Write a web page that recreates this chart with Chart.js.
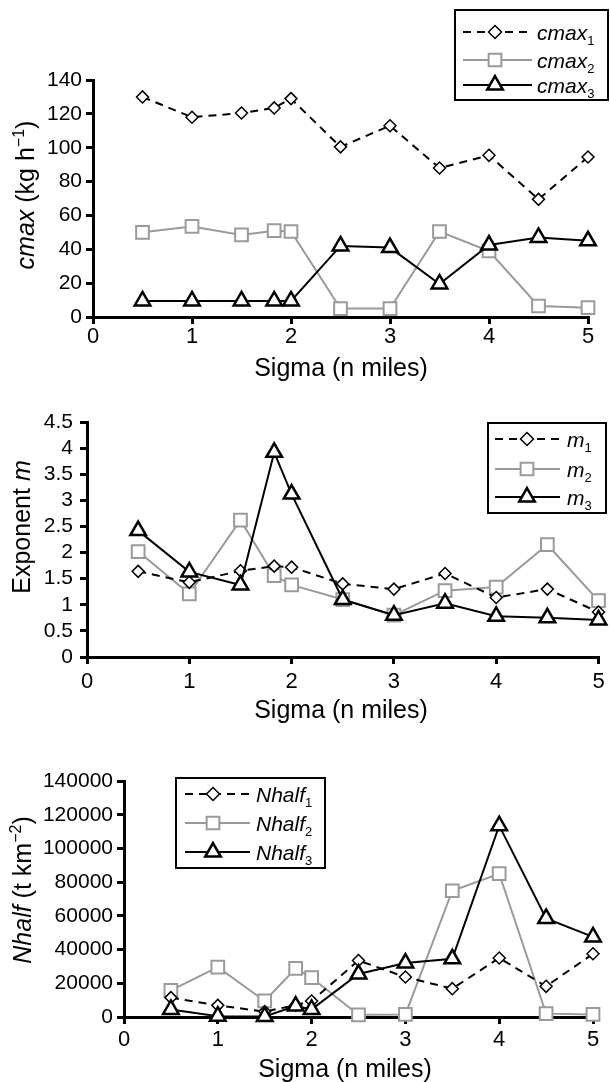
<!DOCTYPE html>
<html>
<head>
<meta charset="utf-8">
<script src="https://cdn.jsdelivr.net/npm/chart.js@4.4.1/dist/chart.umd.min.js"></script>
<style>
html, body { margin: 0; padding: 0; background: #fff; }
#wrap { position: relative; width: 610px; height: 1082px; }
canvas { position: absolute; left: 0; }
</style>
</head>
<body>
<div id="wrap">
  <canvas id="c1" width="610" height="385" style="top:0px"></canvas>
  <canvas id="c2" width="610" height="340" style="top:385px"></canvas>
  <canvas id="c3" width="610" height="357" style="top:725px"></canvas>
</div>
<script>
// data
const sigma = [0.5, 1, 1.5, 1.83, 2, 2.5, 3, 3.5, 4, 4.5, 5];

const cmax1 = [130, 118, 120.5, 123.5, 129, 100.5, 113, 88, 95.5, 69.5, 94.5];
const cmax2 = [50, 53.5, 48.5, 51, 50.5, 5, 5, 50.5, 39, 6.5, 5.5];
const cmax3 = [9.5, 9.5, 9.5, 9.5, 9.5, 42, 41, 19.5, 42.5, 47, 45];

const m1 = [1.64, 1.43, 1.65, 1.74, 1.72, 1.40, 1.30, 1.60, 1.14, 1.30, 0.86];
const m2 = [2.02, 1.21, 2.62, 1.56, 1.38, 1.10, 0.80, 1.27, 1.34, 2.15, 1.08];
const m3 = [2.42, 1.63, 1.38, 3.92, 3.12, 1.10, 0.80, 1.03, 0.78, 0.75, 0.71];

const nhalf1 = [11500, 6900, 3200, 7000, 9500, 33500, 23700, 16800, 35000, 18200, 37500];
const nhalf2 = [15800, 29600, 9500, 28800, 23300, 1300, 1500, 74900, 85000, 2000, 1500];
const nhalf3 = [4500, 500, 300, 6500, 4500, 25500, 32000, 34500, 113500, 58500, 47500];

const xTicks = [0, 1, 2, 3, 4, 5];
const cmaxTicks = [0, 20, 40, 60, 80, 100, 120, 140];
const mTicks = [0, 0.5, 1, 1.5, 2, 2.5, 3, 3.5, 4, 4.5];
const nhalfTicks = [0, 20000, 40000, 60000, 80000, 100000, 120000, 140000];

const FAM = '"Liberation Sans", Arial, Helvetica, sans-serif';
const GREY = '#9a9a9a';

// text with italic / superscript / subscript pieces
function drawRich(ctx, parts, x, y, size, rot, align) {
    const fonts = parts.map(p => (p.i ? 'italic ' : '') + Math.round(p.sup || p.sub ? size * 0.62 : size) + 'px ' + FAM);
    let w = 0;
    const ws = parts.map((p, k) => {
        ctx.font = fonts[k];
        const m = ctx.measureText(p.t).width;
        w += m;
        return m;
    });
    ctx.save();
    ctx.translate(x, y);
    ctx.rotate(rot || 0);
    ctx.textBaseline = 'alphabetic';
    ctx.textAlign = 'left';
    ctx.fillStyle = '#000';
    let cx = align === 'left' ? 0 : -w / 2;
    const base = size * 0.36;
    parts.forEach((p, k) => {
        ctx.font = fonts[k];
        const dy = p.sup ? -size * 0.42 : (p.sub ? size * 0.24 : 0);
        ctx.fillText(p.t, cx, base + dy);
        cx += ws[k];
    });
    ctx.restore();
}

function marker(ctx, style, x, y, r, color, bw) {
    ctx.beginPath();
    if (style === 'rectRot') {
        ctx.moveTo(x, y - r); ctx.lineTo(x + r, y); ctx.lineTo(x, y + r); ctx.lineTo(x - r, y);
    } else if (style === 'rect') {
        const s = r * Math.SQRT1_2;
        ctx.rect(x - s, y - s, 2 * s, 2 * s);
    } else {
        const c = Math.cos(Math.PI / 6) * r;
        ctx.moveTo(x, y - r); ctx.lineTo(x + c, y + r / 2); ctx.lineTo(x - c, y + r / 2);
    }
    ctx.closePath();
    ctx.fillStyle = '#fff';
    ctx.fill();
    ctx.lineWidth = bw;
    ctx.strokeStyle = color;
    ctx.stroke();
}

const styles = [
    {color: '#000', width: 2, dash: [8, 6], point: 'rectRot', r: 6, pbw: 1.5, order: 1},
    {color: GREY, width: 2, dash: [], point: 'rect', r: 9, pbw: 2, order: 2},
    {color: '#000', width: 2, dash: [], point: 'triangle', r: 9, pbw: 2.5, order: 0}
];

const decor = {
    id: 'decor',
    afterDraw(chart, args, o) {
        const ctx = chart.ctx;
        drawRich(ctx, o.xTitle, o.xTitlePos[0], o.xTitlePos[1], 25, 0);
        drawRich(ctx, o.yTitle, o.yTitlePos[0], o.yTitlePos[1], 25, -Math.PI / 2);
        // legend box
        const b = o.box;
        ctx.save();
        ctx.lineWidth = 2;
        ctx.strokeStyle = '#000';
        ctx.strokeRect(b[0], b[1], b[2], b[3]);
        o.rows.forEach((ry, k) => {
            const s = styles[k];
            ctx.beginPath();
            ctx.setLineDash(s.dash);
            ctx.lineWidth = s.width;
            ctx.strokeStyle = s.color;
            ctx.moveTo(o.lineX[0], ry);
            ctx.lineTo(o.lineX[1], ry);
            ctx.stroke();
            ctx.setLineDash([]);
            marker(ctx, s.point, o.markX, ry, k === 0 ? 6.5 : s.r, s.color, s.pbw);
            drawRich(ctx, [{t: o.name, i: true}, {t: String(k + 1), sub: true}], o.textX, ry, 21, 0, 'left');
        });
        ctx.restore();
    }
};

function makeSets(arrs) {
    return arrs.map((arr, k) => {
        const s = styles[k];
        return {
            data: sigma.map((x, i) => ({x: x, y: arr[i]})),
            borderColor: s.color,
            borderWidth: s.width,
            borderDash: s.dash,
            pointStyle: s.point,
            pointRadius: s.r,
            pointBorderWidth: s.pbw,
            pointBorderColor: s.color,
            pointBackgroundColor: '#fff',
            tension: 0,
            clip: false,
            order: s.order
        };
    });
}

function makeChart(id, arrs, yTicks, box) {
    const el = document.getElementById(id);
    const H = el.height;
    const axisGrid = {drawOnChartArea: false, color: '#000', tickColor: '#000', lineWidth: 3, tickWidth: 3, tickLength: 7};
    return new Chart(el, {
        type: 'line',
        data: {datasets: makeSets(arrs)},
        options: {
            responsive: false,
            animation: false,
            events: [],
            layout: {padding: {left: 0, top: box.top, right: 610 - box.right, bottom: 0}},
            plugins: {
                legend: {display: false},
                tooltip: {enabled: false},
                decor: box.decor
            },
            scales: {
                x: {
                    type: 'linear', min: 0, max: 5,
                    afterBuildTicks: s => { s.ticks = xTicks.map(v => ({value: v})); },
                    afterFit: s => { s.height = H - box.bottom; },
                    grid: axisGrid,
                    border: {color: '#000', width: 3},
                    ticks: {color: '#000', font: {family: FAM, size: 22}, padding: box.xPad, maxRotation: 0, autoSkip: false, callback: v => String(v)}
                },
                y: {
                    type: 'linear', min: yTicks[0], max: yTicks[yTicks.length - 1],
                    afterBuildTicks: s => { s.ticks = yTicks.map(v => ({value: v})); },
                    afterFit: s => { s.width = box.left; },
                    grid: axisGrid,
                    border: {color: '#000', width: 3},
                    ticks: {color: '#000', font: {family: FAM, size: 21}, padding: box.yPad, autoSkip: false, callback: v => String(v)}
                }
            }
        },
        plugins: [decor]
    });
}

makeChart('c1', [cmax1, cmax2, cmax3], cmaxTicks, {
    left: 93, right: 588, top: 80, bottom: 317, xPad: 0, yPad: 4,
    decor: {
        xTitle: [{t: 'Sigma (n miles)'}], xTitlePos: [341, 367],
        yTitle: [{t: 'cmax', i: true}, {t: ' (kg h'}, {t: '\u22121', sup: true}, {t: ')'}], yTitlePos: [25, 195],
        name: 'cmax', box: [455, 10, 153, 90], rows: [32, 60, 85], lineX: [463, 532], markX: 495, textX: 537
    }
});

makeChart('c2', [m1, m2, m3], mTicks, {
    left: 87, right: 601, top: 37, bottom: 272, xPad: 5, yPad: 7,
    decor: {
        xTitle: [{t: 'Sigma (n miles)'}], xTitlePos: [341, 324],
        yTitle: [{t: 'Exponent '}, {t: 'm', i: true}], yTitlePos: [21, 142],
        name: 'm', box: [488, 38, 118, 90], rows: [54, 84, 112], lineX: [495, 560], markX: 527, textX: 567
    }
});

makeChart('c3', [nhalf1, nhalf2, nhalf3], nhalfTicks, {
    left: 124, right: 593, top: 56, bottom: 292, xPad: 3, yPad: 4,
    decor: {
        xTitle: [{t: 'Sigma (n miles)'}], xTitlePos: [345, 343],
        yTitle: [{t: 'Nhalf', i: true}, {t: ' (t km'}, {t: '\u22122', sup: true}, {t: ')'}], yTitlePos: [22, 165],
        name: 'Nhalf', box: [176, 53, 149, 90], rows: [69, 98, 127], lineX: [185, 250], markX: 213, textX: 256
    }
});
</script>
</body>
</html>
